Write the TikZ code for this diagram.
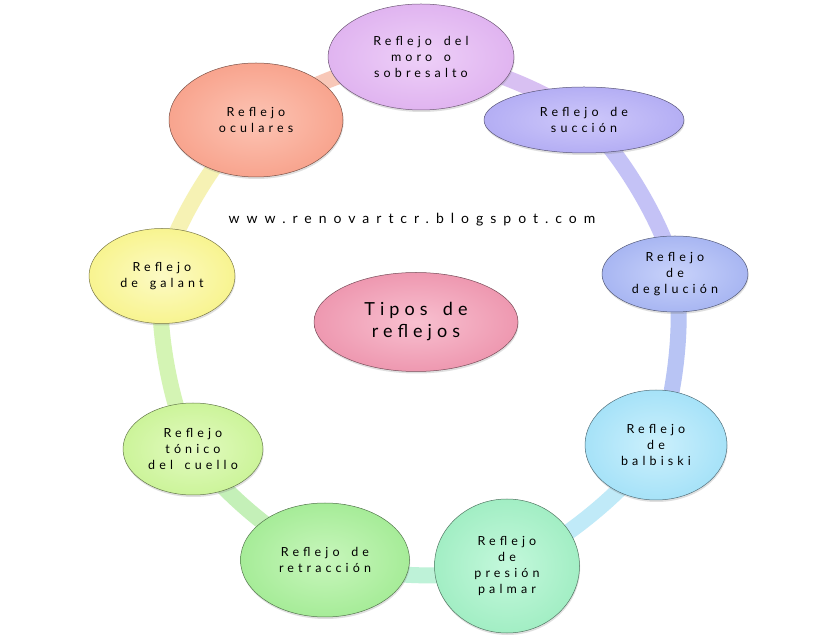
\documentclass[tikz,border=0pt]{standalone}
\usepackage{fontspec}
\setmainfont{Lato}
\newfontfamily\lblfont[LetterSpace=33,WordSpace=1.6]{Lato}
\newfontfamily\ctrfont[LetterSpace=28,WordSpace=1.6]{Lato}
\newfontfamily\webfont[LetterSpace=50]{Lato}
\usetikzlibrary{shapes.geometric,shadows,backgrounds}
\definecolor{moroO}{HTML}{E0B4F0}\definecolor{moroI}{HTML}{EED0F8}
\definecolor{succO}{HTML}{B4AEF4}\definecolor{succI}{HTML}{CEC8FA}
\definecolor{oculO}{HTML}{F8A48E}\definecolor{oculI}{HTML}{FCC4B4}
\definecolor{deglO}{HTML}{A8B6F2}\definecolor{deglI}{HTML}{C8D2FA}
\definecolor{balbO}{HTML}{A6E2F8}\definecolor{balbI}{HTML}{CCF0FC}
\definecolor{presO}{HTML}{A2EEC4}\definecolor{presI}{HTML}{C4F8DC}
\definecolor{retrO}{HTML}{A6EC98}\definecolor{retrI}{HTML}{C8F6BC}
\definecolor{toniO}{HTML}{CCF49A}\definecolor{toniI}{HTML}{E2FAC0}
\definecolor{galO}{HTML}{F8F490}\definecolor{galI}{HTML}{FCFAC4}
\definecolor{ctrO}{HTML}{EE98B0}\definecolor{ctrI}{HTML}{F8C0D0}
\definecolor{bA}{HTML}{D8C0F2}\definecolor{bB}{HTML}{C4C2F6}
\definecolor{bC}{HTML}{B8C4F4}\definecolor{bD}{HTML}{C0EAF8}
\definecolor{bE}{HTML}{BEF2D8}\definecolor{bF}{HTML}{C4F0B8}
\definecolor{bG}{HTML}{D4F4B4}\definecolor{bH}{HTML}{F6F2B4}
\definecolor{bI}{HTML}{F8C8B8}
\tikzset{
  bub/.style 2 args={ellipse, shade, inner color=#1, outer color=#2,
    draw=#2!50!black, line width=0.5pt, inner sep=0pt, align=center,
    text=black, font=\lblfont\fontsize{12.5}{16}\selectfont,
    drop shadow={opacity=0.25, shadow xshift=0.6pt, shadow yshift=-2pt}},
  band/.style={line width=16pt, line cap=butt, looseness=0.65}
}
\begin{document}
\begin{tikzpicture}[x=1pt,y=1pt]
\useasboundingbox (0,0) rectangle (835,637);
\node[bub={moroI}{moroO}, minimum width=186pt, minimum height=106pt] (moro) at (421,580) {Reflejo del\\moro o\\sobresalto};
\node[bub={succI}{succO}, minimum width=200pt, minimum height=66pt] (succ) at (584,517) {Reflejo de\\succión};
\node[bub={oculI}{oculO}, minimum width=174pt, minimum height=114pt] (ocul) at (256,517) {Reflejo\\oculares};
\node[bub={deglI}{deglO}, minimum width=146pt, minimum height=76pt] (degl) at (675,363) {Reflejo\\de\\deglución};
\node[bub={balbI}{balbO}, minimum width=142pt, minimum height=110pt] (balb) at (656,192) {Reflejo\\de\\balbiski};
\node[bub={presI}{presO}, minimum width=145pt, minimum height=134pt] (pres) at (507,71) {Reflejo\\de\\presión\\palmar};
\node[bub={retrI}{retrO}, minimum width=169pt, minimum height=114pt] (retr) at (325,77) {Reflejo de\\retracción};
\node[bub={toniI}{toniO}, minimum width=140pt, minimum height=92pt] (toni) at (193,188) {Reflejo\\tónico\\del cuello};
\node[bub={galI}{galO}, minimum width=146pt, minimum height=95pt] (gal) at (162,361) {Reflejo\\de galant};
\node[bub={ctrI}{ctrO}, minimum width=204pt, minimum height=99pt, font=\ctrfont\fontsize{18}{22}\selectfont] (ctr) at (416,315) {Tipos de\\reflejos};
\node[font=\webfont\fontsize{14}{16}\selectfont, text=black] (web) at (412,417) {www.renovartcr.blogspot.com};
\begin{scope}[on background layer]
\fill[white] (0,0) rectangle (835,637);
\draw[band, bA] (moro.center) to[bend left=19.5] (succ.center);
\draw[band, bB] (succ.center) to[bend left=20] (degl.center);
\draw[band, bC] (degl.center) to[bend left=19] (balb.center);
\draw[band, bD] (balb.center) to[bend left=21] (pres.center);
\draw[band, bE] (pres.center) to[bend left=20.5] (retr.center);
\draw[band, bF] (retr.center) to[bend left=20] (toni.center);
\draw[band, bG] (toni.center) to[bend left=19.5] (gal.center);
\draw[band, bH] (gal.center) to[bend left=21] (ocul.center);
\draw[band, bI] (ocul.center) to[bend left=20] (moro.center);
\end{scope}
\end{tikzpicture}
\end{document}
